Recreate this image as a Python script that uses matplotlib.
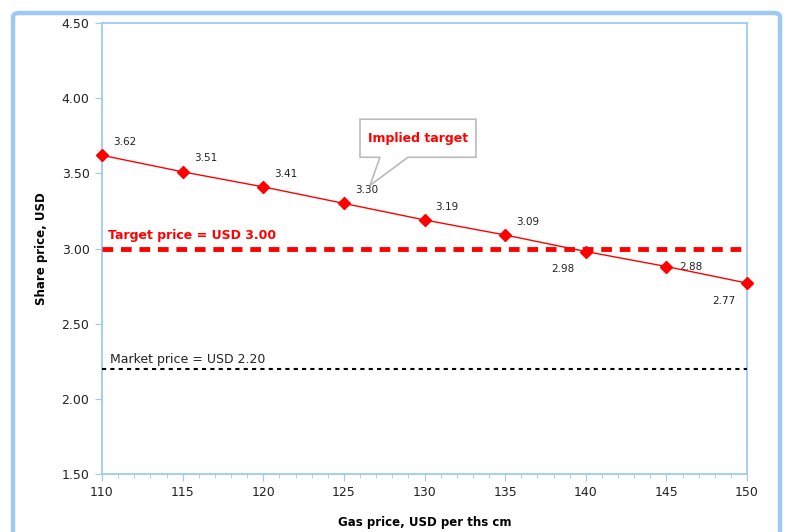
import numpy as np
import matplotlib.pyplot as plt
from matplotlib.patches import FancyBboxPatch, Polygon

# sensitivity of share price to gas price
gas_price = [110, 115, 120, 125, 130, 135, 140, 145, 150]
share_price = [3.62, 3.51, 3.41, 3.30, 3.19, 3.09, 2.98, 2.88, 2.77]
target_price = 3.00
market_price = 2.20

# label offsets in points (dx, dy, ha, va)
lab_pos = [(8, 6, 'left', 'bottom')] * 6 + [(-8, -9, 'right', 'top'),
                                             (9, 0, 'left', 'center'),
                                             (-8, -9, 'right', 'top')]

blue = '#9ec9f5'
plt.rcParams['font.family'] = 'DejaVu Sans'

fig = plt.figure(figsize=(7.87, 5.32), dpi=100)
frame = FancyBboxPatch((13/787, -0.05), (780-13)/787, 1.05 - 13/532,
                       boxstyle='round,pad=0,rounding_size=0.008',
                       transform=fig.transFigure, fc='none', ec=blue, lw=3.2)
fig.patches.append(frame)

ax = fig.add_axes([102/787, 1-474/532, (747-102)/787, (474-23)/532])
ax.plot(gas_price, share_price, color='red', lw=1, marker='D', ms=6.5,
        mfc='red', mec='red', zorder=4, clip_on=False)

for x, y, (dx, dy, ha, va) in zip(gas_price, share_price, lab_pos):
    ax.annotate('%.2f' % y, (x, y), xytext=(dx, dy), textcoords='offset points',
                ha=ha, va=va, fontsize=7.5, color='#222222')

ax.axhline(target_price, color='red', lw=3.5, ls=(0, (2.2, 1.6)), zorder=3)
ax.axhline(market_price, color='black', lw=1.5, ls=(0, (2, 2)), zorder=3)
ax.text(110.4, target_price + 0.04, 'Target price = USD %.2f' % target_price,
        color='red', fontweight='bold', fontsize=9, va='bottom')
ax.text(110.5, market_price + 0.02, 'Market price = USD %.2f' % market_price,
        color='#222222', fontsize=9, va='bottom')

# callout box with its pointer
callout = Polygon([(126.0, 3.86), (133.19, 3.86), (133.19, 3.607),
                   (128.98, 3.607), (126.62, 3.42), (127.24, 3.607),
                   (126.0, 3.607)], closed=True, fc='white', ec='#bbbbbb',
                  lw=1.2, zorder=5)
ax.add_patch(callout)
ax.text(129.6, 3.735, 'Implied target', ha='center', va='center', color='red',
        fontweight='bold', fontsize=9, zorder=6)

ax.set_xlim(110, 150)
ax.set_ylim(1.5, 4.5)
ax.set_xticks(np.arange(110, 151, 5))
ax.set_xticks(np.arange(110, 151, 1), minor=True)
ax.set_yticks(np.arange(1.5, 4.51, 0.5))
ax.yaxis.set_major_formatter(plt.FormatStrFormatter('%.2f'))

for s in ax.spines.values():
    s.set_color(blue)
    s.set_linewidth(1.3)
ax.tick_params(axis='both', which='both', color=blue, labelsize=9,
               labelcolor='#222222')
ax.tick_params(axis='x', which='major', length=5, pad=4)
ax.tick_params(axis='x', which='minor', length=3)
ax.tick_params(axis='y', length=5, pad=4)

ax.set_ylabel('Share price, USD', fontweight='bold', fontsize=8.5, labelpad=10)
ax.set_xlabel('Gas price, USD per ths cm', fontweight='bold', fontsize=8.5,
              labelpad=12)

fig.savefig('out.png', dpi=100)
